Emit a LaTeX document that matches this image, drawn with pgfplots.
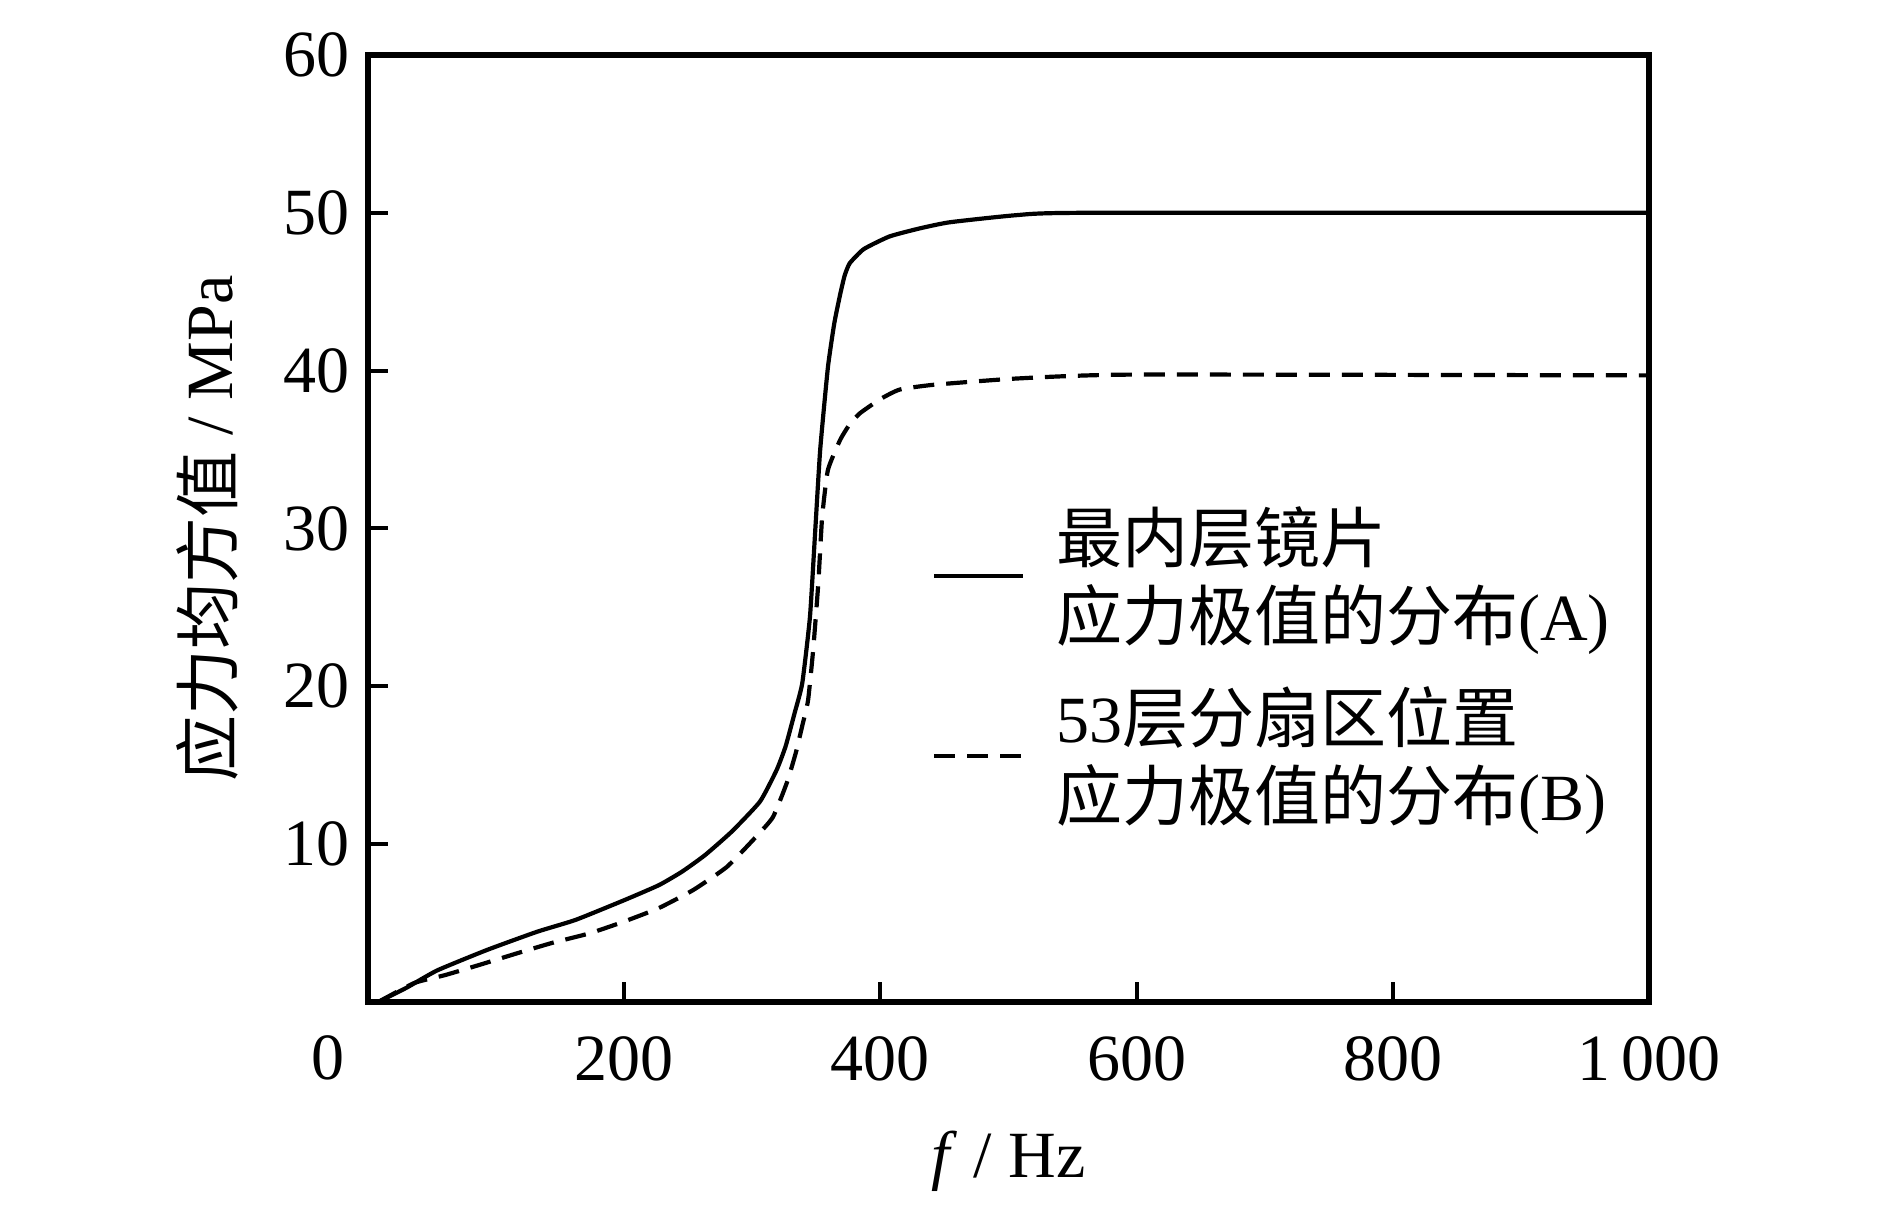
\documentclass[border=0pt]{standalone}
\usepackage{fontspec}
\setmainfont{Liberation Serif}
\newfontfamily\cjk{Noto Sans CJK SC}
\usepackage{pgfplots}
\pgfplotsset{compat=1.18}
\newcommand{\fs}{\fontsize{16.5}{19.5}\selectfont}
\begin{document}
\begin{tikzpicture}
\begin{axis}[
  name=ax,
  at={(0,0)}, anchor=south west,
  scale only axis,
  width=320.25pt, height=236.75pt,
  xmin=0, xmax=1000, ymin=0, ymax=60,
  xtick={200,400,600,800,1000},
  xticklabels={200,400,600,800,{1\,000}},
  ytick={10,20,30,40,50,60},
  tick pos=left,
  tick align=inside,
  major tick length=5pt,
  line width=1.3pt,
  tick style={line width=1pt, black},
  /pgf/number format/assume math mode=true,
  ticklabel style={font=\fs},
  xticklabel style={yshift=-4.75pt},
  yticklabel style={xshift=-0.75pt},
  xlabel={\textit{f} / Hz},
  ylabel={{\cjk 应力均方值} / MPa},
  xlabel style={font=\fs, at={(axis description cs:0.5,0)}, anchor=base, yshift=-44pt},
  ylabel style={font=\fs, at={(axis description cs:-0.1253,0.5)}, anchor=center},
  clip=false,
  legend style={draw=none, fill=none, font=\fs, at={(axis cs:440.3,31.4)}, anchor=north west,
    inner sep=0pt, outer sep=0pt, row sep=10pt, column sep=7.75pt,
    nodes={inner sep=0pt, outer sep=0pt}, cells={align=left}},
  legend cell align=left,
  legend image code/.code={\draw[#1] (0pt,0pt) -- (22.25pt,0pt);},
]
\addplot[black, line width=1.05pt, line join=round, smooth, tension=0.3] coordinates {
(8,0) (30,0.9) (54,2.0) (93,3.3) (132,4.45) (162,5.2) (200,6.45) (227,7.4)
(245,8.25) (263,9.3) (284,10.8) (306,12.7) (319,14.7) (326,16.2) (333,18.3)
(339,20.2) (345,24.4) (349,29.7) (353,35.0) (359,40.2) (364,43.0) (368.5,44.8)
(372,46.0) (376,46.8) (387,47.7) (407,48.5) (430,49.0) (454,49.4) (506,49.85)
(558,50) (1000,50)
};
\addlegendentry{{\cjk 最内层镜片}\\{\cjk 应力极值的分布}(A)}
\addplot[black, line width=1.05pt, line join=round, smooth, tension=0.3, dash pattern=on 5.25pt off 3pt] coordinates {
(8,0) (36,1.2) (60,1.7) (87,2.35) (117,3.1) (144,3.75) (173,4.35) (200,5.1)
(227,5.95) (254,7.1) (280,8.55) (301,10.3) (316,11.7) (327,13.9) (334,15.8)
(339,17.5) (343.5,19.1) (347.5,22.3) (351.5,26.5) (354.5,30.7) (359,33.7)
(368.5,35.6) (376,36.6) (384,37.3) (400,38.2) (415,38.8) (441,39.1) (506,39.5)
(597,39.75) (1000,39.7)
};
\addlegendentry{53{\cjk 层分扇区位置}\\{\cjk 应力极值的分布}(B)}
\node[font=\fs, anchor=north, inner sep=0pt, xshift=-10pt, yshift=-7.7pt] at (rel axis cs:0,0) {0};
\end{axis}
\pgfresetboundingbox
\path[use as bounding box] ([xshift=-92pt,yshift=-50.75pt]ax.south west) rectangle ++(472.5pt,301.25pt);
\end{tikzpicture}
\end{document}
